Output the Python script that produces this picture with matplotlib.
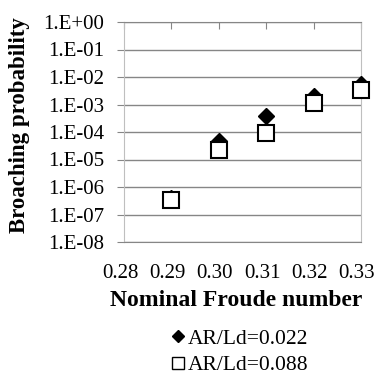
import numpy as np
import matplotlib
matplotlib.use("Agg")
import matplotlib.pyplot as plt
import matplotlib.ticker as ticker
import matplotlib.transforms as mtransforms
from matplotlib.lines import Line2D

froude = [0.29, 0.30, 0.31, 0.32, 0.33]
p_022 = [4.0e-7, 4.7e-5, 3.9e-4, 2.0e-3, 5.8e-3]
p_088 = [3.5e-7, 2.3e-5, 9.0e-5, 1.1e-3, 3.5e-3]
labels = ["AR/Ld=0.022", "AR/Ld=0.088"]
x_ticks = [0.28, 0.29, 0.30, 0.31, 0.32, 0.33]
y_ticks = [10.0 ** e for e in range(0, -9, -1)]

plt.rcParams["font.family"] = ["Liberation Serif", "DejaVu Serif"]

fig = plt.figure(figsize=(3.77, 3.78), dpi=100)
ax = fig.add_axes([124 / 377, 1 - 242 / 378, 237 / 377, 220 / 378])

ax.plot(froude, p_022, linestyle="none", marker="D", markersize=8.5,
        markerfacecolor="black", markeredgecolor="black", zorder=3,
        clip_on=False)
ax.plot(froude, p_088, linestyle="none", marker="s", markersize=11,
        markerfacecolor="white", markeredgecolor="black",
        markeredgewidth=1.5, zorder=4, clip_on=False)

ax.set_yscale("log")
ax.set_ylim(1e-8, 1)
ax.set_xlim(0.28, 0.33)
ax.set_yticks(y_ticks)
ax.yaxis.set_minor_locator(ticker.NullLocator())
ax.yaxis.set_major_formatter(ticker.FuncFormatter(
    lambda v, pos: "1.E%+03d" % int(round(np.log10(v)))))
ax.set_xticks(x_ticks)
ax.set_xticklabels(["%.2f" % x for x in x_ticks])

ax.grid(axis="y", color="#868686", linewidth=1)
for side in ["left", "right"]:
    ax.spines[side].set_color("#bfbfbf")
for side in ["top", "bottom"]:
    ax.spines[side].set_color("#868686")

ax.tick_params(axis="y", direction="out", length=5, color="#868686",
               labelsize=15, pad=9.5)
ax.tick_params(axis="x", direction="in", length=5, color="#868686",
               labelsize=15, bottom=False, top=True, pad=15.5)

# Excel places the category labels slightly left of the tick marks
shift = mtransforms.ScaledTranslation(-4 / 100, 0, fig.dpi_scale_trans)
for lbl in ax.get_xticklabels():
    lbl.set_transform(lbl.get_transform() + shift)

ax.set_xlabel("Nominal Froude number", fontsize=17, fontweight="bold",
              va="center")
ax.xaxis.set_label_coords(0.473, -0.264)
ax.set_ylabel("Broaching probability", fontsize=16.5, fontweight="bold",
              va="center")
ax.yaxis.set_label_coords(-0.439, 0.53)

handles = [
    Line2D([], [], linestyle="none", marker="D", markersize=6,
           markerfacecolor="black", markeredgecolor="black"),
    Line2D([], [], linestyle="none", marker="s", markersize=8.5,
           markerfacecolor="white", markeredgecolor="black",
           markeredgewidth=1),
]
fig.legend(handles, labels, loc="center", bbox_to_anchor=(240 / 377, 1 - 352 / 378),
           frameon=False, fontsize=15.5, handlelength=0.6, handletextpad=0.15,
           labelspacing=0.3)

fig.savefig("out.png", dpi=100)
